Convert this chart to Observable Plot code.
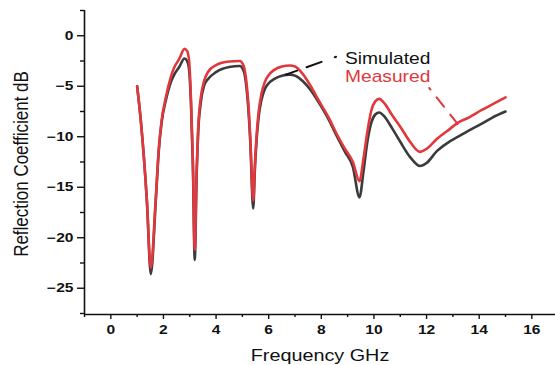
<!DOCTYPE html>
<html><head><meta charset="utf-8">
<script src="https://cdn.jsdelivr.net/npm/d3@7"></script>
<script src="https://cdn.jsdelivr.net/npm/@observablehq/plot@0.6"></script>
<style>
html,body{margin:0;padding:0;background:#fff;}
#chart svg{display:block;}
</style></head><body><div id="chart"></div>
<script>
const freq = [1.0, 1.14, 1.37, 1.52, 1.71, 1.82, 1.93, 2.1, 2.28, 2.4, 2.6, 2.8, 2.9, 2.98, 3.05, 3.12, 3.19, 3.26, 3.32, 3.42, 3.55, 3.69, 4.0, 4.5, 4.9, 5.05, 5.15, 5.22, 5.3, 5.41, 5.48, 5.55, 5.62, 5.72, 5.85, 6.0, 6.2, 6.5, 6.8, 7.0, 7.3, 7.6, 7.9, 8.3, 8.6, 8.9, 9.2, 9.45, 9.6, 9.75, 9.9, 10.05, 10.2, 10.4, 10.7, 11.0, 11.4, 11.75, 12.0, 12.4, 12.8, 13.2, 13.6, 14.1, 14.5, 15.0];
const simulated = [-5.0, -8.4, -16.3, -23.6, -16.3, -11.5, -8.6, -6.3, -4.6, -3.9, -3.1, -2.25, -2.5, -3.5, -7, -13, -22.2, -14, -9.6, -6.6, -4.9, -4.3, -3.6, -3.1, -3.0, -3.5, -5.0, -7.0, -10.5, -17.1, -13, -10, -8, -6.4, -5.3, -4.7, -4.3, -3.95, -3.85, -3.95, -4.5, -5.4, -6.6, -8.4, -10.0, -11.5, -13.0, -16.0, -13.5, -10.5, -8.6, -7.8, -7.6, -8.0, -9.2, -10.5, -12.1, -12.9, -12.6, -11.4, -10.6, -10.0, -9.4, -8.7, -8.1, -7.5];
const measured = [-5.0, -8.4, -16.3, -23.0, -16.0, -11.3, -8.4, -6.0, -4.1, -3.2, -2.3, -1.3, -1.5, -2.6, -6.5, -12.5, -21.2, -13.5, -9.2, -6.1, -4.45, -3.6, -2.9, -2.55, -2.5, -3.0, -4.5, -6.5, -10.0, -16.3, -12.5, -9.5, -7.5, -5.8, -4.6, -3.9, -3.4, -3.05, -2.95, -3.05, -3.8, -5.0, -6.4, -8.2, -9.8, -11.2, -12.5, -14.4, -12.2, -9.5, -7.4, -6.5, -6.25, -6.7, -7.9, -9.0, -10.6, -11.5, -11.2, -10.2, -9.4, -8.6, -8.1, -7.35, -6.8, -6.1];
const xMajorTicks = [0, 2, 4, 6, 8, 10, 12, 14, 16];
const xMinorTicks = [-1, 1, 3, 5, 7, 9, 11, 13, 15];
const yMajorTicks = [0, -5, -10, -15, -20, -25];
const yMinorTicks = [2.5, -2.5, -7.5, -12.5, -17.5, -22.5, -27.5];
const seriesNames = ["Simulated", "Measured"];
const xLabel = "Frequency GHz";
const yLabel = "Reflection Coefficient dB";
const simLeader = [[6.65, -3.85], [8.56, -2.08]];
const measLeader = [[12.1, -5.17], [13.18, -8.73]];

const RED = "#e0383d", DARK = "#3b3b3b";
const simRows = freq.map((f, i) => ({f, v: simulated[i]}));
const measRows = freq.map((f, i) => ({f, v: measured[i]}));

const plot = Plot.plot({
  width: 555, height: 365,
  marginLeft: 84, marginRight: 0, marginTop: 10, marginBottom: 51,
  style: {fontFamily: "'Liberation Sans', Arial, sans-serif", background: "#fff", overflow: "visible", color: "#111"},
  x: {domain: [-1, 16.9]},
  y: {domain: [-27.6, 2.5]},
  marks: [
    Plot.axisX(xMajorTicks, {tickSize: 5, tickPadding: 6, fontSize: 12, fontWeight: "bold", strokeWidth: 1.4, label: null}),
    Plot.axisX(xMinorTicks, {tickSize: 3, text: null, strokeWidth: 1.4, label: null}),
    Plot.axisY(yMajorTicks, {tickSize: 7, tickPadding: 4, fontSize: 12, fontWeight: "bold", strokeWidth: 1.4, label: null}),
    Plot.axisY(yMinorTicks, {tickSize: 4, text: null, strokeWidth: 1.4, label: null}),
    Plot.ruleX([-1], {strokeWidth: 1.6}),
    Plot.ruleY([-27.6], {strokeWidth: 1.6}),
    Plot.line(simRows, {x: "f", y: "v", stroke: DARK, strokeWidth: 2.6, curve: "monotone-x"}),
    Plot.line(measRows, {x: "f", y: "v", stroke: RED, strokeWidth: 2.6, curve: "monotone-x"}),
    Plot.line(simLeader, {stroke: "#111", strokeWidth: 2, strokeDasharray: "12,10,16,14,2,200"}),
    Plot.line(measLeader, {stroke: RED, strokeWidth: 2, strokeDasharray: "2,10,12,10,14,200"}),
    Plot.text([seriesNames[0]], {x: 8.9, y: -2.8, textAnchor: "start", lineAnchor: "bottom", fontSize: 16, fill: "#111"}),
    Plot.text([seriesNames[1]], {x: 8.9, y: -4.6, textAnchor: "start", lineAnchor: "bottom", fontSize: 16, fill: RED}),
    Plot.text([xLabel], {frameAnchor: "bottom", dy: 41.5, textAnchor: "middle", lineAnchor: "middle", fontSize: 16.5, fill: "#111"}),
    Plot.text([yLabel], {frameAnchor: "left", dx: -63.5, dy: 1.5, rotate: -90, textAnchor: "middle", lineAnchor: "middle", fontSize: 17, fill: "#111"})
  ]
});

// the reference's lettering is horizontally stretched
plot.querySelectorAll("text").forEach(t => {
  const tr = t.getAttribute("transform");
  const isRot = tr && tr.includes("rotate");
  const isTick = !!t.closest('[aria-label$="tick label"]');
  const s = isRot ? "scale(1,1.2)" : `scale(${isTick ? 1.3 : 1.2},1)`;
  if (tr) t.setAttribute("transform", tr + " " + s);
  else {
    const x = +t.getAttribute("x") || 0, y = +t.getAttribute("y") || 0;
    t.removeAttribute("x"); t.removeAttribute("y");
    t.setAttribute("transform", `translate(${x},${y}) ${s}`);
  }
});

document.getElementById("chart").appendChild(plot);
</script>
</body></html>
